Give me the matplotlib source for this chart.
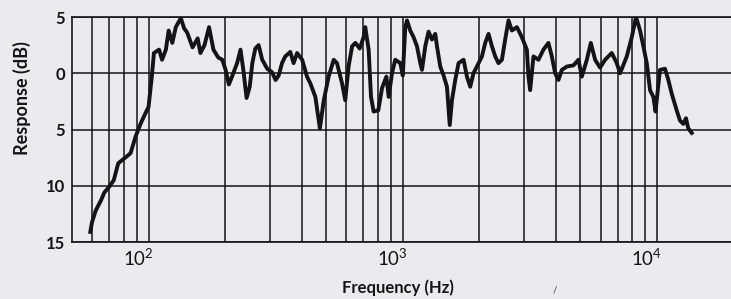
import matplotlib
matplotlib.use("Agg")
import matplotlib.pyplot as plt
import matplotlib.transforms as mtransforms
from matplotlib.ticker import FixedLocator, NullFormatter

# ---- data ----
freq_hz = [59, 60, 62, 65, 67, 70, 73, 76, 79, 82, 85, 89, 93, 97, 100, 103, 105, 110, 113, 117,
           120, 124, 128, 134, 138, 142, 149, 156, 160, 166, 173, 180, 188, 195, 201, 207, 213, 223,
           230, 236, 243, 250, 256, 263, 271, 280, 293, 306, 316, 325, 335, 345, 361, 372, 384, 402,
           420, 433, 453, 472, 489, 511, 535, 551, 577, 594, 612, 632, 651, 677, 701, 712, 734, 750,
           768, 801, 829, 862, 880, 907, 934, 978, 1000, 1023, 1039, 1070, 1103, 1137, 1172, 1190,
           1226, 1263, 1302, 1342, 1363, 1404, 1447, 1492, 1530, 1561, 1608, 1657, 1734, 1788, 1842,
           1897, 1957, 2048, 2110, 2174, 2242, 2310, 2379, 2454, 2528, 2605, 2686, 2811, 2941, 3076,
           3121, 3170, 3266, 3417, 3574, 3740, 3857, 3974, 4095, 4223, 4419, 4691, 4908, 5061, 5296,
           5491, 5709, 5970, 6248, 6637, 6944, 7156, 7603, 7954, 8270, 8575, 8836, 9112, 9387, 9672,
           9865, 10270, 10750, 11080, 11420, 11950, 12310, 12690, 13000, 13270, 13690]
response_db = [-14.1, -13.2, -12.2, -11.3, -10.6, -10.1, -9.5, -8.0, -7.7, -7.4, -7.1, -5.6, -4.5,
               -3.6, -3.0, -0.3, 1.8, 2.1, 1.2, 2.1, 3.8, 2.7, 4.1, 4.9, 4.0, 3.6, 2.3, 3.1, 1.8,
               2.5, 4.1, 2.1, 1.4, 1.2, 0.3, -1.0, -0.3, 0.9, 2.1, 0.3, -2.2, -1.2, 0.9, 2.2, 2.5,
               1.2, 0.4, 0.1, -0.6, -0.2, 0.9, 1.5, 1.9, 0.9, 1.8, 1.2, -0.3, -0.9, -2.1, -4.9,
               -2.4, -0.3, 1.2, 0.9, -0.9, -2.4, 0.6, 2.4, 2.7, 2.2, 3.2, 4.1, 2.1, -2.1, -3.4,
               -3.3, -1.3, -0.3, -2.1, 0.0, 1.2, 0.9, -0.2, 4.1, 4.7, 3.8, 3.2, 2.4, 0.9, 0.3, 2.4,
               3.7, 3.0, 3.5, 2.4, 0.6, -0.2, -1.2, -4.6, -2.4, -0.6, 0.9, 1.2, -0.3, -1.2, 0.0,
               0.6, 1.5, 2.7, 3.5, 2.4, 1.5, 0.9, 1.2, 3.0, 4.7, 3.8, 4.1, 3.2, 2.1, -0.3, -1.5,
               1.5, 1.2, 2.1, 2.7, 1.5, 0.0, -0.6, 0.3, 0.6, 0.7, 1.2, -0.3, 1.2, 2.7, 1.2, 0.5,
               1.2, 1.8, 0.9, 0.0, 1.5, 3.2, 5.0, 3.8, 2.4, 0.9, -1.5, -2.1, -3.4, 0.3, 0.4, -0.6,
               -1.8, -3.3, -4.2, -4.5, -4.0, -4.9, -5.3]
x_major = [100, 1000, 10000]
x_major_labels = [r"$10^2$", r"$10^3$", r"$10^4$"]
x_minor = [60, 70, 80, 90, 200, 300, 400, 500, 600, 700, 800, 900,
           2000, 3000, 4000, 5000, 6000, 7000, 8000, 9000]
y_ticks = [-15, -10, -5, 0, 5]
y_tick_labels = ["15", "10", "5", "0", "5"]

BG = "#ebebed"
INK = "#141414"
plt.rcParams["font.family"] = ["Lato", "DejaVu Sans"]
plt.rcParams["mathtext.fontset"] = "custom"
plt.rcParams["mathtext.rm"] = "Lato"
plt.rcParams["mathtext.it"] = "Lato"
plt.rcParams["mathtext.bf"] = "Lato:bold"

fig = plt.figure(figsize=(7.31, 2.99), dpi=100, facecolor=BG)
ax = fig.add_axes([0.0985, 0.1906, 0.905, 0.7525])
ax.set_facecolor(BG)

ax.plot(freq_hz, response_db, color=INK, lw=2.8, solid_joinstyle="round", zorder=3)

ax.set_xscale("log")
ax.set_xlim(50, 20000)
ax.set_ylim(-15, 5)

ax.xaxis.set_major_locator(FixedLocator(x_major))
ax.xaxis.set_minor_locator(FixedLocator(x_minor))
ax.xaxis.set_minor_formatter(NullFormatter())
ax.set_xticklabels(x_major_labels)
ax.set_yticks(y_ticks)
ax.set_yticklabels(y_tick_labels)

ax.grid(True, which="both", axis="x", color=INK, lw=1.1)
ax.grid(True, which="major", axis="y", color=INK, lw=1.1)
ax.set_axisbelow(True)

ax.tick_params(axis="both", which="both", length=0)
ax.tick_params(axis="x", pad=4, labelsize=13.5, labelcolor=INK)
ax.tick_params(axis="y", pad=5, labelsize=12, labelcolor=INK)
for lab in ax.get_yticklabels():
    lab.set_fontweight("bold")

offset = mtransforms.ScaledTranslation(-0.10, 0, fig.dpi_scale_trans)
for lab in ax.get_xticklabels():
    lab.set_transform(lab.get_transform() + offset)

for side in ["left", "bottom", "top"]:
    ax.spines[side].set_color(INK)
    ax.spines[side].set_linewidth(1.2)
ax.spines["right"].set_visible(False)

ax.set_xlabel("Frequency (Hz)", fontsize=12, fontweight="bold", color=INK)
ax.xaxis.set_label_coords(0.492, -0.168)
ax.set_ylabel("Response (dB)", fontsize=13, fontweight="bold", color=INK)
ax.yaxis.set_label_coords(-0.0625, 0.64)

fig.text(555 / 731, 1 - 290 / 299, "/", fontsize=7, color="#333333", ha="center", va="center")

fig.savefig("out.png", dpi=100, facecolor=BG)
